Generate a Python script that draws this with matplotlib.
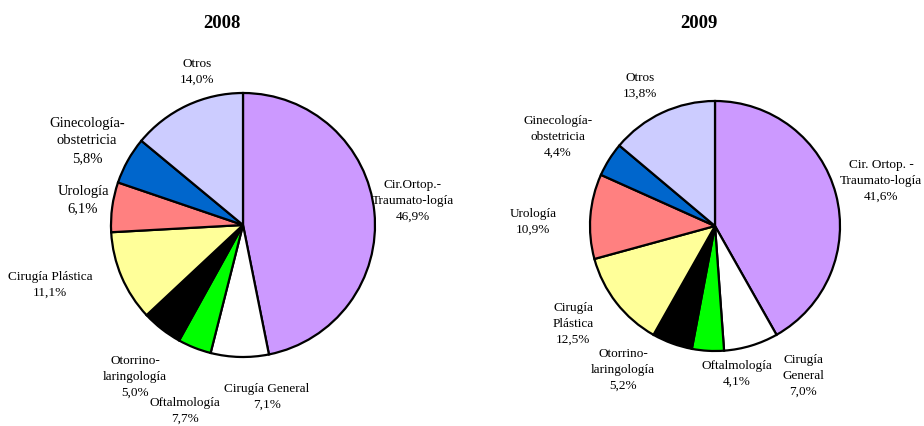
import matplotlib
matplotlib.use("Agg")
import matplotlib.pyplot as plt

plt.rcParams['font.family'] = ['Liberation Serif', 'DejaVu Serif']

colors = ["#CC99FF", "#FFFFFF", "#00FF00", "#000000",
          "#FFFF99", "#FF8080", "#0066CC", "#CCCCFF"]

# slice order: Cir.Ortop., Cirugía General, Oftalmología, Otorrino, Cirugía Plástica,
# Urología, Ginecología, Otros
values_2008 = [46.9, 7.1, 4.1, 5.0, 11.1, 6.1, 5.8, 14.0]  # green slice drawn ~4% though label says 7,7%
values_2009 = [41.6, 7.0, 4.1, 5.2, 12.5, 10.9, 4.4, 13.8]

labels_2008 = ["Cir.Ortop.-\nTraumato-logía\n46,9%", "Cirugía General\n7,1%",
               "Oftalmología\n7,7%", "Otorrino-\nlaringología\n5,0%",
               "Cirugía Plástica\n11,1%", "Urología\n6,1%",
               "Ginecología-\nobstetricia\n5,8%", "Otros\n14,0%"]
labels_2009 = ["Cir. Ortop. -\nTraumato-logía\n41,6%", "Cirugía\nGeneral\n7,0%",
               "Oftalmología\n4,1%", "Otorrino-\nlaringología\n5,2%",
               "Cirugía\nPlástica\n12,5%", "Urología\n10,9%",
               "Ginecología-\nobstetricia\n4,4%", "Otros\n13,8%"]

W, H = 924, 426
fig = plt.figure(figsize=(W / 100, H / 100), dpi=100)
ax = fig.add_axes([0, 0, 1, 1])


def draw(values, labels, center, radius, title, title_x, label_pos, sizes):
    cx, cy = center
    ax.pie(values, colors=colors, startangle=90, counterclock=False,
           center=(cx, H - cy), radius=radius, frame=True,
           wedgeprops=dict(edgecolor="black", linewidth=1.6))
    ax.text(title_x, H - 24, title, ha="center", va="center",
            fontsize=13.5, fontweight="bold")
    for lab, (x, y), fs in zip(labels, label_pos, sizes):
        ax.text(x, H - y, lab, ha="center", va="center", fontsize=fs,
                linespacing=1.45)


pos_2008 = [(413, 201), (267, 397), (185, 411), (135, 377),
            (50, 285), (83, 200), (87, 141), (197, 72)]
size_2008 = [9.5, 9.5, 9.5, 9.5, 9.5, 10.5, 10.5, 9.5]
pos_2009 = [(881, 181), (803, 376), (737, 374), (623, 370),
            (573, 324), (533, 222), (558, 137), (640, 86)]
size_2009 = [9.5] * 8

draw(values_2008, labels_2008, (243, 225), 132, "2008", 222, pos_2008, size_2008)
draw(values_2009, labels_2009, (715, 226), 125, "2009", 699, pos_2009, size_2009)

ax.set_xlim(0, W)
ax.set_ylim(0, H)
ax.set_aspect("equal")
ax.set_axis_off()

fig.savefig("out.png", dpi=100)
